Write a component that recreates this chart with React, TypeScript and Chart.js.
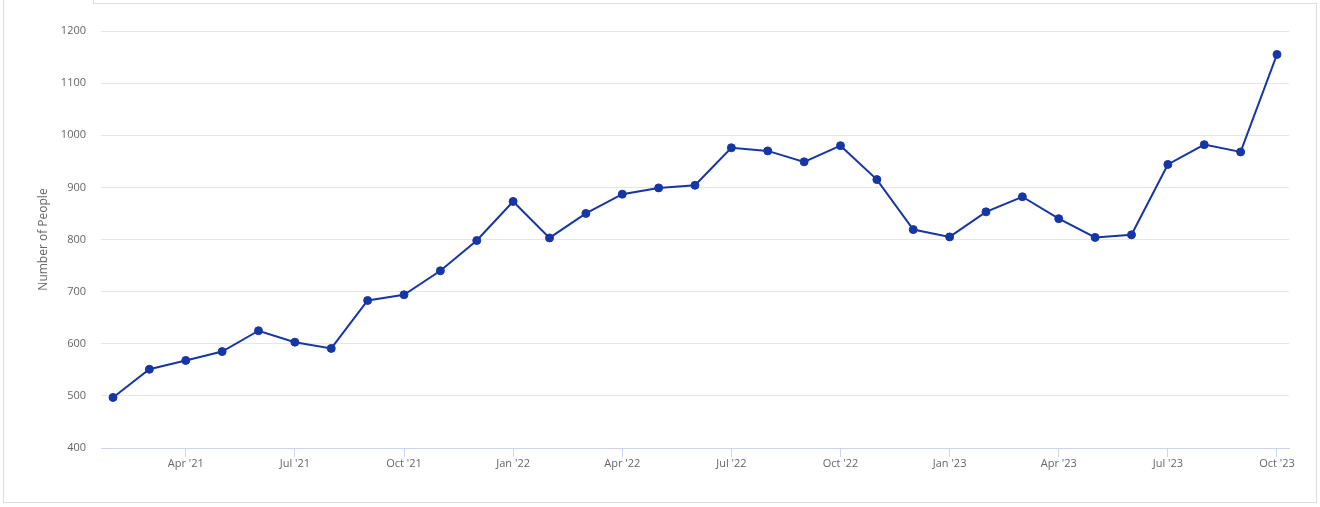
import React, { useEffect, useRef } from "react";
import { Chart, registerables } from "chart.js";

Chart.register(...registerables);

const months: string[] = [
  "Feb '21", "Mar '21", "Apr '21", "May '21", "Jun '21", "Jul '21", "Aug '21", "Sep '21", "Oct '21", "Nov '21", "Dec '21",
  "Jan '22", "Feb '22", "Mar '22", "Apr '22", "May '22", "Jun '22", "Jul '22", "Aug '22", "Sep '22", "Oct '22", "Nov '22", "Dec '22",
  "Jan '23", "Feb '23", "Mar '23", "Apr '23", "May '23", "Jun '23", "Jul '23", "Aug '23", "Sep '23", "Oct '23",
];

const people: number[] = [
  497, 551, 568, 585, 625, 603, 591, 683, 694, 740, 798,
  873, 803, 850, 887, 899, 904, 976, 970, 949, 980, 915, 819,
  805, 853, 882, 840, 804, 809, 944, 982, 968, 1155,
];

const tickLabels: string[] = [
  "Apr '21", "Jul '21", "Oct '21", "Jan '22", "Apr '22", "Jul '22", "Oct '22", "Jan '23", "Apr '23", "Jul '23", "Oct '23",
];

const yTicks: number[] = [400, 500, 600, 700, 800, 900, 1000, 1100, 1200];

const axisTitle = "Number of People";

const FONT = "'Open Sans', 'Noto Sans', sans-serif";
const LINE = "#1736a6";

export default function App() {
  const ref = useRef<HTMLCanvasElement | null>(null);

  useEffect(() => {
    document.body.style.margin = "0";
    const tickIdx = tickLabels.map((l) => months.indexOf(l));
    const chart = new Chart(ref.current as HTMLCanvasElement, {
      type: "line",
      data: {
        datasets: [
          {
            label: axisTitle,
            data: people.map((v, i) => ({ x: i, y: v })),
            borderColor: LINE,
            backgroundColor: LINE,
            borderWidth: 2,
            pointRadius: 4,
            pointBorderWidth: 1,
            pointBackgroundColor: LINE,
            pointBorderColor: LINE,
            tension: 0,
          },
        ],
      },
      options: {
        animation: false,
        responsive: true,
        maintainAspectRatio: false,
        layout: { padding: { left: 0, top: 31, right: 31, bottom: 0 } },
        plugins: { legend: { display: false }, tooltip: { enabled: false } },
        scales: {
          x: {
            type: "linear",
            min: -0.33,
            max: 32.33,
            afterBuildTicks: (s: any) => {
              s.ticks = tickIdx.map((v) => ({ value: v }));
            },
            afterFit: (s: any) => {
              s.height = 59;
            },
            ticks: {
              padding: 0,
              autoSkip: false,
              maxRotation: 0,
              color: "#666666",
              font: { family: FONT, size: 11 },
              callback: (v: any) => months[Number(v)] ?? "",
            },
            grid: {
              drawOnChartArea: false,
              drawTicks: true,
              tickLength: 9,
              color: "#ccd6eb",
              lineWidth: 1,
            },
            border: { display: true, color: "#ccd6eb", width: 1 },
          },
          y: {
            min: 400,
            max: 1200,
            afterBuildTicks: (s: any) => {
              s.ticks = yTicks.map((v) => ({ value: v }));
            },
            afterFit: (s: any) => {
              s.width = 101;
            },
            ticks: {
              padding: 15,
              color: "#666666",
              font: { family: FONT, size: 11 },
              callback: (v: any) => String(v),
            },
            grid: { drawTicks: false, color: "#e6e6e6", lineWidth: 1 },
            border: { display: false },
            title: {
              display: true,
              text: axisTitle,
              color: "#666666",
              font: { family: FONT, size: 12 },
              padding: { top: 36, bottom: 0 },
            },
          },
        },
      },
    });
    return () => chart.destroy();
  }, []);

  return (
    <div style={{ position: "absolute", left: 0, top: 0, width: 1320, height: 507, background: "#fff", overflow: "hidden" }}>
      <div style={{ position: "absolute", left: 3, top: 3, width: 1312, height: 498, border: "1px solid #dedede" }} />
      <div style={{ position: "absolute", left: 4, top: 3, width: 89, height: 1, background: "#fff" }} />
      <div style={{ position: "absolute", left: 3, top: 0, width: 1, height: 4, background: "#dedede" }} />
      <div style={{ position: "absolute", left: 93, top: 0, width: 1, height: 4, background: "#dedede" }} />
      <div style={{ position: "absolute", left: 0, top: 0, width: 1320, height: 507 }}>
        <canvas ref={ref} />
      </div>
    </div>
  );
}
